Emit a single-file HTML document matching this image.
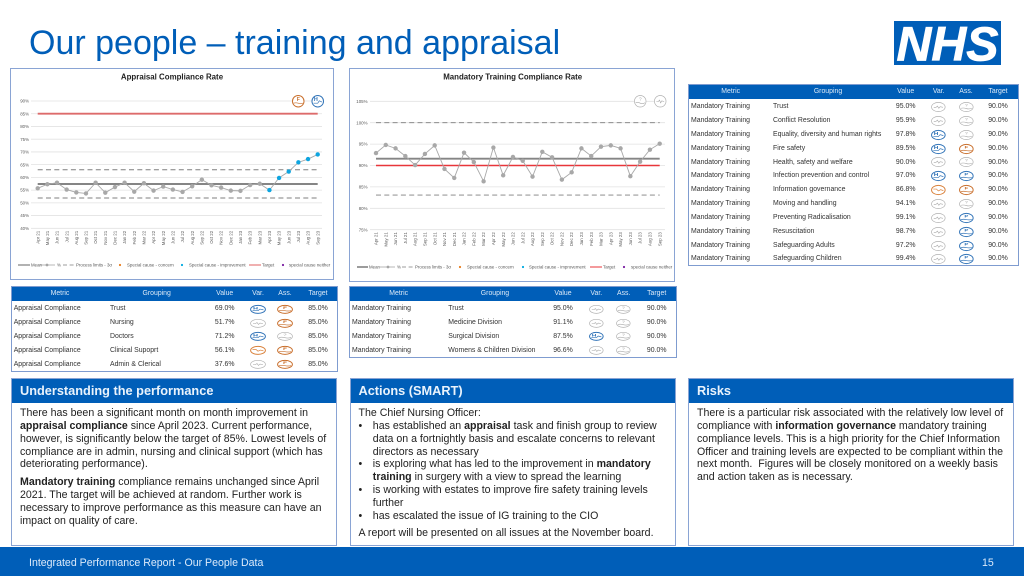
<!DOCTYPE html>
<html lang="en">
<head>
<meta charset="utf-8">
<title>Our people – training and appraisal</title>
<style>
html,body{margin:0;padding:0;background:#fff}
body{width:1024px;height:576px;position:relative;overflow:hidden;font-family:"Liberation Sans",Arial,sans-serif;color:#222}
.abs{position:absolute}
#title{left:29px;top:22px;font-size:34px;line-height:42px;color:#005eb8;white-space:nowrap}
.frame{position:absolute;outline:1px solid #8aa4d4;background:#fff}
.chart svg{display:block;filter:blur(.25px)}
.tbl{position:absolute;outline:1px solid #7f9cd0;background:#fff;font-size:6.9px;color:#333;filter:blur(.2px)}
.thead{position:relative;height:14px;margin-bottom:1.2px;background:#005eb8;color:#dbe9f7}
.thead span{position:absolute;top:0;line-height:14px;width:80px;margin-left:-40px;text-align:center;font-size:6.9px}
.row{position:relative;height:13.85px;line-height:13.85px;white-space:nowrap}
.row span{position:absolute;top:0}
.row .m{left:var(--m)}
.row .g{left:var(--g)}
.row .v,.row .t{width:40px;margin-left:-20px;text-align:center}
.row .v{left:var(--v)}
.row .t{left:var(--t)}
.ico{position:absolute;top:50%;width:var(--iw);height:var(--ih);margin-top:calc(var(--ih) / -2);margin-left:calc(var(--iw) / -2);overflow:visible}
.ico.a{left:var(--a)}
.ico.s{left:var(--s)}
.panel{position:absolute;top:378.5px;height:166px;width:323.5px;outline:1px solid #8aa4d4;background:#fff;font-size:10.6px;line-height:12.85px;color:#222}
.phead{height:24px;line-height:24px;background:#005eb8;color:#eaf3fc;font-weight:bold;font-size:12.75px;padding-left:8px}
.pbody{position:absolute;top:28.5px;left:8px;right:0;white-space:nowrap}
.pbody p{margin:0 0 4.85px 0}
.li{position:relative;padding-left:14.3px}
.li i{position:absolute;left:0;top:0;font-style:normal}
#footer{position:absolute;left:0;top:547px;width:1024px;height:29px;background:#005eb8;color:#dbeafa;font-size:10.6px;line-height:32px}
</style>
</head>
<body>

<svg width="0" height="0" style="position:absolute" aria-hidden="true">
<defs>
<g id="var-grey"><circle cx="8" cy="8" r="7.4" fill="#fff" stroke="#b0b0b0" stroke-width=".7" vector-effect="non-scaling-stroke"/><polyline points="3,8.5 5.5,8.5 7,6.5 8.5,10 10,7.5 13,8.5" fill="none" stroke="#a8a8a8" stroke-width=".6" vector-effect="non-scaling-stroke"/></g>
<g id="var-blue"><circle cx="8" cy="8" r="7.4" fill="#fff" stroke="#3274b8" stroke-width="1" vector-effect="non-scaling-stroke"/><text x="5.5" y="8" font-size="7" font-weight="bold" text-anchor="middle" fill="#3274b8">H</text><polyline points="2.5,10.5 8,10.5 10,7.5 13.5,9" fill="none" stroke="#3274b8" stroke-width=".7" vector-effect="non-scaling-stroke"/></g>
<g id="var-orange"><circle cx="8" cy="8" r="7.4" fill="#fff" stroke="#d9813b" stroke-width="1" vector-effect="non-scaling-stroke"/><polyline points="2.5,6.5 6,6.5 8,9.5 10.5,7.5 13.5,9" fill="none" stroke="#d9813b" stroke-width=".7" vector-effect="non-scaling-stroke"/></g>
<g id="ass-grey"><circle cx="8" cy="8" r="7.4" fill="#fff" stroke="#b0b0b0" stroke-width=".7" vector-effect="non-scaling-stroke"/><text x="8" y="7" font-size="6" text-anchor="middle" fill="#a0a0a0">?</text><path d="M2 10 Q5 9 8 10.5 T14 10" fill="none" stroke="#a8a8a8" stroke-width=".6" vector-effect="non-scaling-stroke"/></g>
<g id="ass-blue"><circle cx="8" cy="8" r="7.4" fill="#fff" stroke="#3274b8" stroke-width="1" vector-effect="non-scaling-stroke"/><text x="8" y="7.5" font-size="6.5" font-weight="bold" text-anchor="middle" fill="#3274b8">P</text><path d="M2 10.5 Q5 9.5 8 10.5 T14 10.5" fill="none" stroke="#3274b8" stroke-width=".7" vector-effect="non-scaling-stroke"/></g>
<g id="ass-orange"><circle cx="8" cy="8" r="7.4" fill="#fff" stroke="#c96f2c" stroke-width="1" vector-effect="non-scaling-stroke"/><text x="8" y="7.5" font-size="6.5" font-weight="bold" text-anchor="middle" fill="#c96f2c">F</text><path d="M2 10.5 Q5 9.5 8 10.5 T14 10.5" fill="none" stroke="#c96f2c" stroke-width=".7" vector-effect="non-scaling-stroke"/></g>
</defs>
</svg>

<div id="title" class="abs">Our people – training and appraisal</div>

<svg class="abs" style="left:894px;top:21px" width="107" height="44" viewBox="0 0 107 44">
<rect width="107" height="44" fill="#005eb8"/>
<text x="2.5" y="39.5" font-family="'Liberation Sans',Arial,sans-serif" font-weight="bold" font-style="italic" font-size="48" fill="#fff" stroke="#fff" stroke-width=".8" textLength="102" lengthAdjust="spacingAndGlyphs">NHS</text>
</svg>

<!-- Appraisal chart -->
<div class="frame chart" style="left:11px;top:69px;width:322px;height:210px">
<svg id="chart-appraisal" width="322" height="210" viewBox="11 69 322 210" font-family="'Liberation Sans',Arial,sans-serif">
<text x="172" y="79.5" text-anchor="middle" font-size="7.9" font-weight="bold" fill="#222">Appraisal Compliance Rate</text>
<g id="marks-appraisal"></g>
<g><use href="#ass-orange" transform="translate(292 95) scale(.78)"/></g>
<g><use href="#var-blue" transform="translate(311.5 95) scale(.78)"/></g>
<g font-size="4.4" fill="#595959">
<g><line x1="18" x2="30" y1="265" y2="265" stroke="#7f7f7f" stroke-width="1.2"/><text x="31" y="266.6">Mean</text></g>
<g><line x1="39" x2="55" y1="265" y2="265" stroke="#a5a5a5" stroke-width=".8"/><circle cx="47" cy="265" r="1.4" fill="#a5a5a5"/><text x="57" y="266.6">%</text></g>
<g><line x1="63" x2="75" y1="265" y2="265" stroke="#7f7f7f" stroke-width=".8" stroke-dasharray="4 2.6"/><text x="76" y="266.6">Process limits - 3σ</text></g>
<g><circle cx="120" cy="265" r="1.1" fill="#e87d1e"/><text x="127" y="266.6">Special cause - concern</text></g>
<g><circle cx="182" cy="265" r="1.1" fill="#00a9e0"/><text x="189" y="266.6">Special cause - improvement</text></g>
<g><line x1="249" x2="261" y1="265" y2="265" stroke="#e06060" stroke-width="1"/><text x="262" y="266.6">Target</text></g>
<g><circle cx="283" cy="265" r="1.1" fill="#7a1fa2"/><text x="289" y="266.6">special cause neither</text></g>
</g>
</svg>
</div>

<!-- Mandatory training chart -->
<div class="frame chart" style="left:350px;top:69px;width:324px;height:212px">
<svg id="chart-training" width="324" height="212" viewBox="350 69 324 212" font-family="'Liberation Sans',Arial,sans-serif">
<text x="512.7" y="79.5" text-anchor="middle" font-size="7.9" font-weight="bold" fill="#222">Mandatory Training Compliance Rate</text>
<g id="marks-training"></g>
<g><use href="#ass-grey" transform="translate(634 95) scale(.78)"/></g>
<g><use href="#var-grey" transform="translate(654 95) scale(.78)"/></g>
<g font-size="4.4" fill="#595959">
<g><line x1="357" x2="368" y1="267" y2="267" stroke="#595959" stroke-width="1.2"/><text x="369" y="268.6">Mean</text></g>
<g><line x1="380" x2="395" y1="267" y2="267" stroke="#a5a5a5" stroke-width=".8"/><circle cx="388" cy="267" r="1.4" fill="#a5a5a5"/><text x="397" y="268.6">%</text></g>
<g><line x1="402" x2="414" y1="267" y2="267" stroke="#7f7f7f" stroke-width=".8" stroke-dasharray="4 2.6"/><text x="415" y="268.6">Process limits - 3σ</text></g>
<g><circle cx="460" cy="267" r="1.1" fill="#e87d1e"/><text x="467" y="268.6">Special cause - concern</text></g>
<g><circle cx="523" cy="267" r="1.1" fill="#00a9e0"/><text x="529" y="268.6">Special cause - improvement</text></g>
<g><line x1="590" x2="602" y1="267" y2="267" stroke="#e8363a" stroke-width="1"/><text x="603" y="268.6">Target</text></g>
<g><circle cx="624" cy="267" r="1.1" fill="#7a1fa2"/><text x="631" y="268.6">special cause neither</text></g>
</g>
</svg>
</div>

<!-- Right table -->
<div class="tbl" style="left:689px;top:85px;width:329px;height:180px;--m:2px;--g:84px;--v:216.7px;--a:249.7px;--s:277px;--t:309px;--iw:14.7px;--ih:10px">
<div class="thead"><span style="left:41.7px">Metric</span><span style="left:139px">Grouping</span><span style="left:216.7px">Value</span><span style="left:249.7px">Var.</span><span style="left:277px">Ass.</span><span style="left:309px">Target</span></div>
<div class="row"><span class="m">Mandatory Training</span><span class="g">Trust</span><span class="v">95.0%</span><svg class="ico a" viewBox="0 0 16 16" preserveAspectRatio="none"><use href="#var-grey"/></svg><svg class="ico s" viewBox="0 0 16 16" preserveAspectRatio="none"><use href="#ass-grey"/></svg><span class="t">90.0%</span></div>
<div class="row"><span class="m">Mandatory Training</span><span class="g">Conflict Resolution</span><span class="v">95.9%</span><svg class="ico a" viewBox="0 0 16 16" preserveAspectRatio="none"><use href="#var-grey"/></svg><svg class="ico s" viewBox="0 0 16 16" preserveAspectRatio="none"><use href="#ass-grey"/></svg><span class="t">90.0%</span></div>
<div class="row"><span class="m">Mandatory Training</span><span class="g">Equality, diversity and human rights</span><span class="v">97.8%</span><svg class="ico a" viewBox="0 0 16 16" preserveAspectRatio="none"><use href="#var-blue"/></svg><svg class="ico s" viewBox="0 0 16 16" preserveAspectRatio="none"><use href="#ass-grey"/></svg><span class="t">90.0%</span></div>
<div class="row"><span class="m">Mandatory Training</span><span class="g">Fire safety</span><span class="v">89.5%</span><svg class="ico a" viewBox="0 0 16 16" preserveAspectRatio="none"><use href="#var-blue"/></svg><svg class="ico s" viewBox="0 0 16 16" preserveAspectRatio="none"><use href="#ass-orange"/></svg><span class="t">90.0%</span></div>
<div class="row"><span class="m">Mandatory Training</span><span class="g">Health, safety and welfare</span><span class="v">90.0%</span><svg class="ico a" viewBox="0 0 16 16" preserveAspectRatio="none"><use href="#var-grey"/></svg><svg class="ico s" viewBox="0 0 16 16" preserveAspectRatio="none"><use href="#ass-grey"/></svg><span class="t">90.0%</span></div>
<div class="row"><span class="m">Mandatory Training</span><span class="g">Infection prevention and control</span><span class="v">97.0%</span><svg class="ico a" viewBox="0 0 16 16" preserveAspectRatio="none"><use href="#var-blue"/></svg><svg class="ico s" viewBox="0 0 16 16" preserveAspectRatio="none"><use href="#ass-blue"/></svg><span class="t">90.0%</span></div>
<div class="row"><span class="m">Mandatory Training</span><span class="g">Information governance</span><span class="v">86.8%</span><svg class="ico a" viewBox="0 0 16 16" preserveAspectRatio="none"><use href="#var-orange"/></svg><svg class="ico s" viewBox="0 0 16 16" preserveAspectRatio="none"><use href="#ass-orange"/></svg><span class="t">90.0%</span></div>
<div class="row"><span class="m">Mandatory Training</span><span class="g">Moving and handling</span><span class="v">94.1%</span><svg class="ico a" viewBox="0 0 16 16" preserveAspectRatio="none"><use href="#var-grey"/></svg><svg class="ico s" viewBox="0 0 16 16" preserveAspectRatio="none"><use href="#ass-grey"/></svg><span class="t">90.0%</span></div>
<div class="row"><span class="m">Mandatory Training</span><span class="g">Preventing Radicalisation</span><span class="v">99.1%</span><svg class="ico a" viewBox="0 0 16 16" preserveAspectRatio="none"><use href="#var-grey"/></svg><svg class="ico s" viewBox="0 0 16 16" preserveAspectRatio="none"><use href="#ass-blue"/></svg><span class="t">90.0%</span></div>
<div class="row"><span class="m">Mandatory Training</span><span class="g">Resuscitation</span><span class="v">98.7%</span><svg class="ico a" viewBox="0 0 16 16" preserveAspectRatio="none"><use href="#var-grey"/></svg><svg class="ico s" viewBox="0 0 16 16" preserveAspectRatio="none"><use href="#ass-blue"/></svg><span class="t">90.0%</span></div>
<div class="row"><span class="m">Mandatory Training</span><span class="g">Safeguarding Adults</span><span class="v">97.2%</span><svg class="ico a" viewBox="0 0 16 16" preserveAspectRatio="none"><use href="#var-grey"/></svg><svg class="ico s" viewBox="0 0 16 16" preserveAspectRatio="none"><use href="#ass-blue"/></svg><span class="t">90.0%</span></div>
<div class="row"><span class="m">Mandatory Training</span><span class="g">Safeguarding Children</span><span class="v">99.4%</span><svg class="ico a" viewBox="0 0 16 16" preserveAspectRatio="none"><use href="#var-grey"/></svg><svg class="ico s" viewBox="0 0 16 16" preserveAspectRatio="none"><use href="#ass-blue"/></svg><span class="t">90.0%</span></div>
</div>

<!-- Appraisal table -->
<div class="tbl" style="left:11.7px;top:287px;width:325px;height:84px;--m:2px;--g:98.3px;--v:213px;--a:246.3px;--s:273.3px;--t:306.3px;--iw:16px;--ih:8.7px">
<div class="thead"><span style="left:48.3px">Metric</span><span style="left:145px">Grouping</span><span style="left:213px">Value</span><span style="left:246.3px">Var.</span><span style="left:273.3px">Ass.</span><span style="left:306.3px">Target</span></div>
<div class="row"><span class="m">Appraisal Compliance</span><span class="g">Trust</span><span class="v">69.0%</span><svg class="ico a" viewBox="0 0 16 16" preserveAspectRatio="none"><use href="#var-blue"/></svg><svg class="ico s" viewBox="0 0 16 16" preserveAspectRatio="none"><use href="#ass-orange"/></svg><span class="t">85.0%</span></div>
<div class="row"><span class="m">Appraisal Compliance</span><span class="g">Nursing</span><span class="v">51.7%</span><svg class="ico a" viewBox="0 0 16 16" preserveAspectRatio="none"><use href="#var-grey"/></svg><svg class="ico s" viewBox="0 0 16 16" preserveAspectRatio="none"><use href="#ass-orange"/></svg><span class="t">85.0%</span></div>
<div class="row"><span class="m">Appraisal Compliance</span><span class="g">Doctors</span><span class="v">71.2%</span><svg class="ico a" viewBox="0 0 16 16" preserveAspectRatio="none"><use href="#var-blue"/></svg><svg class="ico s" viewBox="0 0 16 16" preserveAspectRatio="none"><use href="#ass-grey"/></svg><span class="t">85.0%</span></div>
<div class="row"><span class="m">Appraisal Compliance</span><span class="g">Clinical Supoprt</span><span class="v">56.1%</span><svg class="ico a" viewBox="0 0 16 16" preserveAspectRatio="none"><use href="#var-orange"/></svg><svg class="ico s" viewBox="0 0 16 16" preserveAspectRatio="none"><use href="#ass-orange"/></svg><span class="t">85.0%</span></div>
<div class="row"><span class="m">Appraisal Compliance</span><span class="g">Admin &amp; Clerical</span><span class="v">37.6%</span><svg class="ico a" viewBox="0 0 16 16" preserveAspectRatio="none"><use href="#var-grey"/></svg><svg class="ico s" viewBox="0 0 16 16" preserveAspectRatio="none"><use href="#ass-orange"/></svg><span class="t">85.0%</span></div>
</div>

<!-- Training by division table -->
<div class="tbl" style="left:350.3px;top:287px;width:325.4px;height:70.3px;--m:1.7px;--g:98px;--v:212.7px;--a:246px;--s:273.4px;--t:306.4px;--iw:14.7px;--ih:8.7px">
<div class="thead"><span style="left:48.4px">Metric</span><span style="left:144.7px">Grouping</span><span style="left:212.7px">Value</span><span style="left:246px">Var.</span><span style="left:273.4px">Ass.</span><span style="left:306.4px">Target</span></div>
<div class="row"><span class="m">Mandatory Training</span><span class="g">Trust</span><span class="v">95.0%</span><svg class="ico a" viewBox="0 0 16 16" preserveAspectRatio="none"><use href="#var-grey"/></svg><svg class="ico s" viewBox="0 0 16 16" preserveAspectRatio="none"><use href="#ass-grey"/></svg><span class="t">90.0%</span></div>
<div class="row"><span class="m">Mandatory Training</span><span class="g">Medicine Division</span><span class="v">91.1%</span><svg class="ico a" viewBox="0 0 16 16" preserveAspectRatio="none"><use href="#var-grey"/></svg><svg class="ico s" viewBox="0 0 16 16" preserveAspectRatio="none"><use href="#ass-grey"/></svg><span class="t">90.0%</span></div>
<div class="row"><span class="m">Mandatory Training</span><span class="g">Surgical Division</span><span class="v">87.5%</span><svg class="ico a" viewBox="0 0 16 16" preserveAspectRatio="none"><use href="#var-blue"/></svg><svg class="ico s" viewBox="0 0 16 16" preserveAspectRatio="none"><use href="#ass-grey"/></svg><span class="t">90.0%</span></div>
<div class="row"><span class="m">Mandatory Training</span><span class="g">Womens &amp; Children Division</span><span class="v">96.6%</span><svg class="ico a" viewBox="0 0 16 16" preserveAspectRatio="none"><use href="#var-grey"/></svg><svg class="ico s" viewBox="0 0 16 16" preserveAspectRatio="none"><use href="#ass-grey"/></svg><span class="t">90.0%</span></div>
</div>

<!-- Narrative panels -->
<div class="panel" style="left:12px">
<div class="phead">Understanding the performance</div>
<div class="pbody">
<p>There has been a significant month on month improvement in<br><b>appraisal compliance</b> since April 2023. Current performance,<br>however, is significantly below the target of 85%. Lowest levels of<br>compliance are in admin, nursing and clinical support (which has<br>deteriorating performance).</p>
<p><b>Mandatory training</b> compliance remains unchanged since April<br>2021. The target will be achieved at random. Further work is<br>necessary to improve performance as this measure can have an<br>impact on quality of care.</p>
</div>
</div>

<div class="panel" style="left:350.5px;width:324.5px">
<div class="phead">Actions (SMART)</div>
<div class="pbody">
<div>The Chief Nursing Officer:</div>
<div class="li"><i>•</i>has established an <b>appraisal</b> task and finish group to review<br>data on a fortnightly basis and escalate concerns to relevant<br>directors as necessary</div>
<div class="li"><i>•</i>is exploring what has led to the improvement in <b>mandatory<br>training</b> in surgery with a view to spread the learning</div>
<div class="li"><i>•</i>is working with estates to improve fire safety training levels<br>further</div>
<div class="li" style="margin-bottom:4.85px"><i>•</i>has escalated the issue of IG training to the CIO</div>
<div>A report will be presented on all issues at the November board.</div>
</div>
</div>

<div class="panel" style="left:689px">
<div class="phead">Risks</div>
<div class="pbody">
<p>There is a particular risk associated with the relatively low level of<br>compliance with <b>information governance</b> mandatory training<br>compliance levels. This is a high priority for the Chief Information<br>Officer and training levels are expected to be compliant within the<br>next month.&nbsp; Figures will be closely monitored on a weekly basis<br>and action taken as is necessary.</p>
</div>
</div>

<div id="footer">
<span class="abs" style="left:29px;top:0">Integrated Performance Report - Our People Data</span>
<span class="abs" style="left:982px;top:0">15</span>
</div>

<script>
// Shared category axis
const months = ['Apr 21','May 21','Jun 21','Jul 21','Aug 21','Sep 21','Oct 21','Nov 21','Dec 21','Jan 22','Feb 22','Mar 22','Apr 22','May 22','Jun 22','Jul 22','Aug 22','Sep 22','Oct 22','Nov 22','Dec 22','Jan 23','Feb 23','Mar 23','Apr 23','May 23','Jun 23','Jul 23','Aug 23','Sep 23'];

// Appraisal compliance chart data
const appraisalValues = [55.7,57.3,57.9,55.2,54.1,53.7,57.9,54.0,56.2,57.9,54.4,57.7,54.8,56.4,55.2,54.3,56.5,59.1,56.9,56.0,54.8,54.7,57.0,57.5,55.0,59.8,62.3,65.9,67.2,69.0];
const appraisalTicks = [40,45,50,55,60,65,70,75,80,85,90];
const appraisalTickLabels = ['40%','45%','50%','55%','60%','65%','70%','75%','80%','85%','90%'];
const appraisalMean = [57.4];
const appraisalUpperLimit = [63.0];
const appraisalLowerLimit = [51.9];
const appraisalTarget = [85];
const appraisalImprovementMonths = ['Apr 23','May 23','Jun 23','Jul 23','Aug 23','Sep 23'];

// Mandatory training chart data
const trainingValues = [92.9,94.8,94.0,92.2,90.1,92.7,94.7,89.2,87.1,93.0,90.8,86.3,94.2,87.7,92.0,91.1,87.4,93.2,91.9,86.7,88.4,94.0,92.2,94.4,94.7,94.0,87.5,90.9,93.7,95.1];
const trainingTicks = [75,80,85,90,95,100,105];
const trainingTickLabels = ['75%','80%','85%','90%','95%','100%','105%'];
const trainingMean = [91.6];
const trainingUpperLimit = [100.0];
const trainingLowerLimit = [83.1];
const trainingTarget = [90];
const trainingImprovementMonths = [];

const SVG_NS = 'http://www.w3.org/2000/svg';

function svgEl(tag, attrs, parent) {
  const el = document.createElementNS(SVG_NS, tag);
  Object.keys(attrs).forEach(function (k) { el.setAttribute(k, attrs[k]); });
  parent.appendChild(el);
  return el;
}

function linearScale(d0, d1, r0, r1) {
  return function (v) { return r0 + (v - d0) * (r1 - r0) / (d1 - d0); };
}

function drawSpcChart(root, opts) {
  const n = opts.categories.length;
  const x = linearScale(0, n - 1, opts.x0, opts.x1);
  const y = linearScale(opts.ticks[0], opts.ticks[opts.ticks.length - 1], opts.yBottom, opts.yTop);

  opts.ticks.forEach(function (t, i) {
    const grid = svgEl('line', {x1: opts.gridLeft, x2: opts.gridRight, y1: y(t), y2: y(t), stroke: '#e2e2e2', 'stroke-width': 0.8}, root);
    
    
    const label = svgEl('text', {x: opts.labelX, y: y(t) + 1.6, 'text-anchor': 'end', 'font-size': 4.4, fill: '#595959'}, root);
    label.textContent = opts.tickLabels[i];
    
    
  });

  opts.categories.forEach(function (c, i) {
    const lx = x(i);
    const ly = opts.yBottom + 2.5;
    const label = svgEl('text', {x: lx + 1.6, y: ly, 'text-anchor': 'end', 'font-size': 4.4, fill: '#595959', transform: 'rotate(-90 ' + (lx + 1.6) + ' ' + ly + ')'}, root);
    label.textContent = c;
    
    
  });

  const upper = svgEl('line', {x1: x(0), x2: x(n - 1), y1: y(opts.upper[0]), y2: y(opts.upper[0]), stroke: '#7f7f7f', 'stroke-width': 0.9, 'stroke-dasharray': '5 3.3'}, root);
  
  

  const lower = svgEl('line', {x1: x(0), x2: x(n - 1), y1: y(opts.lower[0]), y2: y(opts.lower[0]), stroke: '#7f7f7f', 'stroke-width': 0.9, 'stroke-dasharray': '5 3.3'}, root);
  
  

  const mean = svgEl('line', {x1: x(0), x2: x(n - 1), y1: y(opts.mean[0]), y2: y(opts.mean[0]), stroke: '#858585', 'stroke-width': 1.9}, root);
  
  

  const target = svgEl('line', {x1: x(0), x2: x(n - 1), y1: y(opts.target[0]), y2: y(opts.target[0]), stroke: opts.targetColor, 'stroke-width': opts.targetWidth}, root);
  
  

  const pts = opts.values.map(function (v, i) { return x(i) + ',' + y(v); }).join(' ');
  const line = svgEl('polyline', {points: pts, fill: 'none', stroke: '#a8a8a8', 'stroke-width': 0.9}, root);
  
  

  opts.values.forEach(function (v, i) {
    const special = opts.special.indexOf(opts.categories[i]) !== -1;
    const dot = svgEl('circle', {cx: x(i), cy: y(v), r: 2.2, fill: special ? '#0ea5e0' : '#a8a8a8'}, root);
    
    
  });
}

drawSpcChart(document.getElementById('marks-appraisal'), {
  categories: months, values: appraisalValues, ticks: appraisalTicks, tickLabels: appraisalTickLabels,
  mean: appraisalMean, upper: appraisalUpperLimit, lower: appraisalLowerLimit, target: appraisalTarget,
  special: appraisalImprovementMonths,
  x0: 37.7, x1: 317.7, yBottom: 228.3, yTop: 101, gridLeft: 31, gridRight: 322, labelX: 29,
  targetColor: '#dd6b6b', targetWidth: 1.9
});

drawSpcChart(document.getElementById('marks-training'), {
  categories: months, values: trainingValues, ticks: trainingTicks, tickLabels: trainingTickLabels,
  mean: trainingMean, upper: trainingUpperLimit, lower: trainingLowerLimit, target: trainingTarget,
  special: trainingImprovementMonths,
  x0: 376, x1: 659.7, yBottom: 229.7, yTop: 101.3, gridLeft: 370, gridRight: 665, labelX: 367.5,
  targetColor: '#e8363a', targetWidth: 1.4
});
</script>
</body>
</html>
